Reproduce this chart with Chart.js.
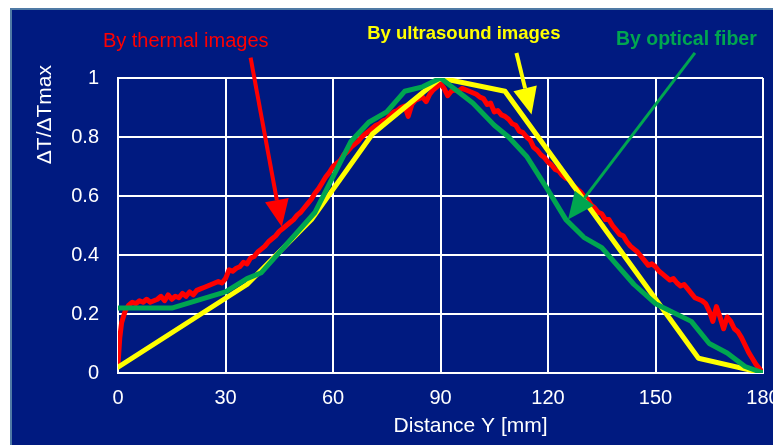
<!DOCTYPE html>
<html>
<head>
<meta charset="utf-8">
<script src="https://cdn.jsdelivr.net/npm/chart.js@4"></script>
<style>
  html, body { margin: 0; padding: 0; background: #fff; overflow: hidden; width: 773px; height: 445px; }
  #panel { position: absolute; left: 10px; top: 8px; width: 800px; height: 460px;
           background: #001a80; border-top: 2px solid #4f7aa5; border-left: 2px solid #4f7aa5; }
  #chart { position: absolute; left: 0; top: 0; }
</style>
</head>
<body>
<div id="panel"></div>
<canvas id="chart" width="800" height="445"></canvas>
<script>
// thermal images (red)
const thermalX = [0, 0.5, 1, 2, 3, 4, 5, 6, 7, 8, 9, 10, 11, 12, 13, 14, 15, 16, 17, 18, 19, 20,
  21, 22, 23, 24, 25, 26, 27, 28, 29, 30, 31, 32, 33, 34, 35, 36, 37, 38, 39, 40,
  41, 42, 43, 44, 45, 46, 47, 48, 49, 50, 51, 52, 53, 54, 55, 56, 57, 58, 59, 60,
  61, 62, 63, 64, 65, 66, 67, 68, 69, 70, 71, 72, 73, 74, 75, 76, 77, 78, 79, 80,
  81, 82, 83, 84, 85, 86, 87, 88, 89, 90, 91, 92, 93, 94, 95, 96, 97, 98, 99, 100,
  101, 102, 103, 104, 105, 106, 107, 108, 109, 110, 111, 112, 113, 114, 115, 116, 117, 118, 119, 120,
  121, 122, 123, 124, 125, 126, 127, 128, 129, 130, 131, 132, 133, 134, 135, 136, 137, 138, 139, 140,
  141, 142, 143, 144, 145, 146, 147, 148, 149, 150, 151, 152, 153, 154, 155, 156, 157, 158, 159, 160,
  161, 162, 163, 164, 165, 166, 167, 168, 169, 170, 171, 172, 173, 174, 175, 176, 177, 178, 179, 180];
const thermalY = [0.03, 0.12, 0.17, 0.21, 0.23, 0.24, 0.235, 0.245, 0.24, 0.25, 0.24, 0.245, 0.25, 0.26, 0.245, 0.265, 0.25, 0.26, 0.255, 0.27, 0.26, 0.275,
  0.265, 0.28, 0.285, 0.29, 0.295, 0.30, 0.305, 0.31, 0.305, 0.32, 0.35, 0.345, 0.355, 0.36, 0.375, 0.37, 0.39, 0.395, 0.41, 0.42,
  0.43, 0.445, 0.455, 0.465, 0.48, 0.49, 0.50, 0.51, 0.52, 0.535, 0.545, 0.56, 0.575, 0.59, 0.61, 0.625, 0.645, 0.665, 0.68, 0.70,
  0.71, 0.72, 0.74, 0.75, 0.765, 0.775, 0.785, 0.80, 0.81, 0.82, 0.83, 0.84, 0.845, 0.855, 0.86, 0.875, 0.885, 0.89, 0.90, 0.905,
  0.87, 0.91, 0.925, 0.93, 0.935, 0.92, 0.945, 0.96, 0.97, 0.98, 0.965, 0.94, 0.955, 0.96, 0.955, 0.965, 0.96, 0.955, 0.95, 0.945,
  0.935, 0.93, 0.91, 0.915, 0.885, 0.89, 0.875, 0.87, 0.86, 0.845, 0.84, 0.82, 0.815, 0.80, 0.79, 0.765, 0.755, 0.74, 0.73, 0.715,
  0.705, 0.69, 0.685, 0.67, 0.66, 0.655, 0.635, 0.625, 0.615, 0.60, 0.59, 0.57, 0.56, 0.545, 0.54, 0.52, 0.52, 0.50, 0.485, 0.47,
  0.465, 0.445, 0.43, 0.42, 0.41, 0.395, 0.38, 0.365, 0.37, 0.36, 0.345, 0.335, 0.325, 0.315, 0.32, 0.305, 0.295, 0.30, 0.285, 0.27,
  0.255, 0.25, 0.245, 0.235, 0.21, 0.175, 0.225, 0.19, 0.15, 0.19, 0.175, 0.15, 0.14, 0.12, 0.095, 0.07, 0.05, 0.03, 0.015, 0.0];

// ultrasound images (yellow)
const ultrasoundX = [0, 36, 54, 71, 90, 108, 162, 180];
const ultrasoundY = [0.02, 0.30, 0.52, 0.81, 1.0, 0.955, 0.05, 0.0];

// optical fiber (green)
const fiberX = [0, 15, 30, 36, 40, 55, 65, 70, 75, 80, 85, 90, 99, 105, 109, 114, 120, 125, 130, 135, 144, 150, 160, 165, 170, 175, 180];
const fiberY = [0.22, 0.22, 0.275, 0.32, 0.34, 0.545, 0.785, 0.85, 0.885, 0.955, 0.97, 1.0, 0.915, 0.84, 0.80, 0.735, 0.62, 0.52, 0.46, 0.425, 0.30, 0.235, 0.175, 0.10, 0.068, 0.022, 0.0];

const xTicks = [0, 30, 60, 90, 120, 150, 180];
const yTicks = [0, 0.2, 0.4, 0.6, 0.8, 1];

const FONT = "'Liberation Sans', Arial, sans-serif";

function pts(xs, ys) {
  return xs.map((x, i) => ({ x: x, y: ys[i] }));
}

// labels and arrows, placed in data units
const notes = [
  { text: "By thermal images", x: 18.9, y: 1.106, color: "#ff0000", font: "20px " + FONT },
  { text: "By ultrasound images", x: 96.5, y: 1.131, color: "#ffff00", font: "bold 18.5px " + FONT },
  { text: "By optical fiber", x: 158.6, y: 1.113, color: "#00a650", font: "bold 19.5px " + FONT }
];
const arrows = [
  { x1: 37.0, y1: 1.069, x2: 45.7, y2: 0.496, color: "#ff0000", w: 4 },
  { x1: 111.2, y1: 1.085, x2: 115.4, y2: 0.876, color: "#ffff00", w: 4 },
  { x1: 161.0, y1: 1.085, x2: 125.6, y2: 0.52, color: "#00a650", w: 3 }
];

const decor = {
  id: "decor",
  afterDatasetsDraw(chart) {
    const ctx = chart.ctx;
    const xs = chart.scales.x, ys = chart.scales.y;
    ctx.save();
    arrows.forEach(a => {
      const x1 = xs.getPixelForValue(a.x1), y1 = ys.getPixelForValue(a.y1);
      const x2 = xs.getPixelForValue(a.x2), y2 = ys.getPixelForValue(a.y2);
      const ang = Math.atan2(y2 - y1, x2 - x1);
      const len = 27, half = 12;
      const bx = x2 - len * Math.cos(ang), by = y2 - len * Math.sin(ang);
      ctx.strokeStyle = a.color;
      ctx.fillStyle = a.color;
      ctx.lineWidth = a.w;
      ctx.beginPath();
      ctx.moveTo(x1, y1);
      ctx.lineTo(bx, by);
      ctx.stroke();
      ctx.beginPath();
      ctx.moveTo(x2, y2);
      ctx.lineTo(bx + half * Math.sin(ang), by - half * Math.cos(ang));
      ctx.lineTo(bx - half * Math.sin(ang), by + half * Math.cos(ang));
      ctx.closePath();
      ctx.fill();
    });
    ctx.textAlign = "center";
    ctx.textBaseline = "alphabetic";
    notes.forEach(n => {
      ctx.font = n.font;
      ctx.fillStyle = n.color;
      ctx.fillText(n.text, xs.getPixelForValue(n.x), ys.getPixelForValue(n.y));
    });
    // axis titles
    ctx.fillStyle = "#ffffff";
    ctx.font = "21px " + FONT;
    ctx.fillText("Distance Y [mm]", xs.getPixelForValue(98.4), chart.chartArea.bottom + 59);
    ctx.translate(chart.chartArea.left - 67, ys.getPixelForValue(0.876));
    ctx.rotate(-Math.PI / 2);
    ctx.fillText("\u0394T/\u0394Tmax", 0, 0);
    ctx.restore();
  }
};

const lineStyle = { borderWidth: 5, pointRadius: 0, tension: 0, borderJoinStyle: "round", borderCapStyle: "round" };

new Chart(document.getElementById("chart"), {
  type: "line",
  data: {
    datasets: [
      { label: "By optical fiber", data: pts(fiberX, fiberY), borderColor: "#00a650", ...lineStyle },
      { label: "By ultrasound images", data: pts(ultrasoundX, ultrasoundY), borderColor: "#ffff00", ...lineStyle },
      { label: "By thermal images", data: pts(thermalX, thermalY), borderColor: "#ff0000", ...lineStyle }
    ]
  },
  options: {
    responsive: false,
    animation: false,
    layout: { padding: { top: 78, right: 37, left: 0, bottom: 0 } },
    plugins: { legend: { display: false }, tooltip: { enabled: false } },
    scales: {
      x: {
        type: "linear",
        min: 0,
        max: 180,
        afterFit: s => { s.height = 72; },
        afterBuildTicks: s => { s.ticks = xTicks.map(v => ({ value: v })); },
        grid: { color: "#ffffff", lineWidth: 2, drawTicks: false },
        border: { color: "#ffffff", width: 2 },
        ticks: { color: "#ffffff", font: { family: FONT, size: 20 }, padding: 13, maxRotation: 0, callback: v => String(v) }
      },
      y: {
        min: 0,
        max: 1,
        afterFit: s => { s.width = 118; },
        afterBuildTicks: s => { s.ticks = yTicks.map(v => ({ value: v })); },
        grid: { color: "#ffffff", lineWidth: 2, drawTicks: false },
        border: { color: "#ffffff", width: 2 },
        ticks: { color: "#ffffff", font: { family: FONT, size: 20 }, padding: 19, callback: v => String(v) }
      }
    }
  },
  plugins: [decor]
});
</script>
</body>
</html>
